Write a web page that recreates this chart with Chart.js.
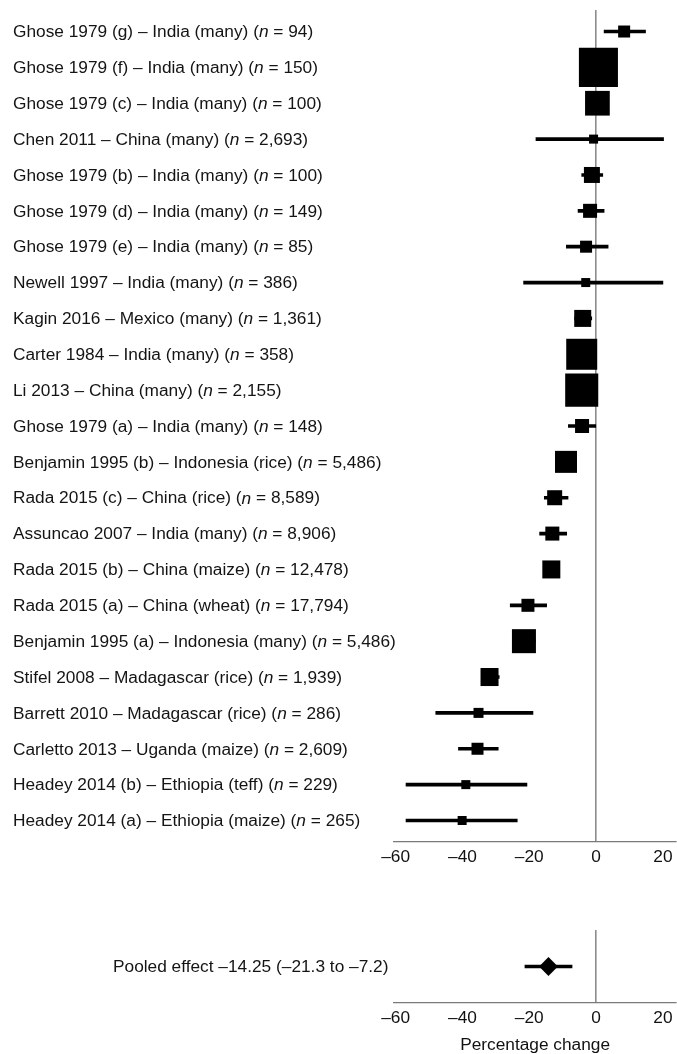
<!DOCTYPE html>
<html>
<head>
<meta charset="utf-8">
<script src="https://cdn.jsdelivr.net/npm/chart.js@4.4.0/dist/chart.umd.min.js"></script>
<style>
  html, body { margin: 0; padding: 0; background: #fff; }
  #wrap { position: relative; width: 677px; height: 1054px; overflow: hidden; }
  #studies { position: absolute; left: 0; top: 0; }
  #pooled { position: absolute; left: 0; top: 900px; }
</style>
</head>
<body>
<div id="wrap">
  <canvas id="studies" width="677" height="880"></canvas>
  <canvas id="pooled" width="677" height="154"></canvas>
</div>
<script>
// Study rows, top to bottom
const studyLabels = [
  'Ghose 1979 (g) \u2013 India (many)',
  'Ghose 1979 (f) \u2013 India (many)',
  'Ghose 1979 (c) \u2013 India (many)',
  'Chen 2011 \u2013 China (many)',
  'Ghose 1979 (b) \u2013 India (many)',
  'Ghose 1979 (d) \u2013 India (many)',
  'Ghose 1979 (e) \u2013 India (many)',
  'Newell 1997 \u2013 India (many)',
  'Kagin 2016 \u2013 Mexico (many)',
  'Carter 1984 \u2013 India (many)',
  'Li 2013 \u2013 China (many)',
  'Ghose 1979 (a) \u2013 India (many)',
  'Benjamin 1995 (b) \u2013 Indonesia (rice)',
  'Rada 2015 (c) \u2013 China (rice)',
  'Assuncao 2007 \u2013 India (many)',
  'Rada 2015 (b) \u2013 China (maize)',
  'Rada 2015 (a) \u2013 China (wheat)',
  'Benjamin 1995 (a) \u2013 Indonesia (many)',
  'Stifel 2008 \u2013 Madagascar (rice)',
  'Barrett 2010 \u2013 Madagascar (rice)',
  'Carletto 2013 \u2013 Uganda (maize)',
  'Headey 2014 (b) \u2013 Ethiopia (teff)',
  'Headey 2014 (a) \u2013 Ethiopia (maize)'
];
const sampleSizes = ['94', '150', '100', '2,693', '100', '149', '85', '386', '1,361', '358', '2,155',
  '148', '5,486', '8,589', '8,906', '12,478', '17,794', '5,486', '1,939', '286', '2,609', '229', '265'];

// Percentage change with 95% confidence limits
const effects = [8.4, 0.7, 0.4, -0.75, -1.25, -1.8, -3.0, -3.1, -4.0, -4.3, -4.3, -4.2,
  -9.0, -12.4, -13.1, -13.4, -20.4, -21.6, -31.9, -35.2, -35.5, -39.0, -40.1];
const ciLow = [2.4, -4.0, -3.0, -18.0, -4.3, -5.4, -8.9, -21.7, -6.4, -8.0, -8.0, -8.3,
  -11.5, -15.5, -16.9, -15.5, -25.7, -25.0, -34.3, -48.0, -41.2, -56.9, -56.9];
const ciHigh = [14.8, 5.4, 3.5, 20.2, 2.0, 2.4, 3.6, 20.0, -1.3, -0.6, -0.8, -0.1,
  -6.5, -8.4, -8.8, -11.3, -14.8, -18.2, -29.0, -18.9, -29.3, -20.7, -23.6];
// Study weights (%)
const studyWeights = [1.74, 18.4, 7.37, 0.98, 3.09, 2.37, 1.74, 0.98, 3.49, 11.6, 13.2, 2.37,
  5.85, 2.72, 2.37, 3.92, 2.04, 6.96, 3.92, 1.21, 1.74, 0.98, 0.98];

// Pooled estimate
const pooledEffect = -14.25;
const pooledLow = -21.3;
const pooledHigh = -7.2;

const tickValues = [-60, -40, -20, 0, 20];
const axisTitle = 'Percentage change';

const FONT = '"Liberation Sans", Arial, Helvetica, sans-serif';
const FONT_SIZE = 17.3;
const dash = v => (v < 0 ? '\u2013' + Math.abs(v) : String(v));

// square area proportional to weight
const markerSide = w => 9.1 * Math.sqrt(w);

// draws the row labels at the left, with an italic "n"
const rowLabels = {
  id: 'rowLabels',
  afterDatasetsDraw(chart, args, opts) {
    const ctx = chart.ctx;
    const ys = chart.scales.y;
    ctx.save();
    ctx.fillStyle = '#141414';
    ctx.textBaseline = 'middle';
    ctx.textAlign = 'left';
    opts.rows.forEach((parts, i) => {
      let x = opts.x;
      const py = ys.getPixelForValue(opts.values ? opts.values[i] : i) + 1;
      parts.forEach(p => {
        ctx.font = (p.italic ? 'italic ' : '') + FONT_SIZE + 'px ' + FONT;
        ctx.fillText(p.text, x, py);
        x += ctx.measureText(p.text).width;
      });
    });
    ctx.restore();
  }
};

function xScale(height, withTitle) {
  return {
    type: 'linear',
    min: -60.5,
    max: 24,
    offset: false,
    afterBuildTicks: s => { s.ticks = tickValues.map(v => ({ value: v })); },
    afterFit: s => { s.height = height; },
    grid: {
      drawTicks: false,
      offset: false,
      color: c => (c.tick && c.tick.value === 0 ? '#8c8c8c' : 'rgba(0,0,0,0)'),
      lineWidth: 1.6
    },
    border: { color: '#7a7a7a', width: 1.2 },
    ticks: {
      padding: 4.5,
      color: '#111',
      font: { family: FONT, size: FONT_SIZE },
      callback: v => dash(v)
    },
    title: {
      display: withTitle,
      text: axisTitle,
      color: '#111',
      font: { family: FONT, size: FONT_SIZE, lineHeight: 1 },
      padding: { top: 0, bottom: 0 }
    }
  };
}

function yScale(min, max) {
  return {
    type: 'linear', min, max, reverse: true, display: false,
    offset: false, grid: { offset: false }
  };
}

const commonPlugins = {
  legend: { display: false },
  tooltip: { enabled: false }
};

new Chart(document.getElementById('studies'), {
  type: 'bar',
  data: {
    datasets: [
      {
        type: 'scatter',
        data: effects.map((v, i) => ({ x: v, y: i })),
        pointStyle: 'rect',
        pointRadius: studyWeights.map(w => markerSide(w) / Math.SQRT2),
        backgroundColor: '#000',
        borderWidth: 0,
        clip: false,
        order: 0
      },
      {
        type: 'bar',
        data: ciLow.map((lo, i) => ({ x: [lo, ciHigh[i]], y: i })),
        backgroundColor: '#000',
        borderWidth: 0,
        borderSkipped: false,
        barThickness: 3,
        order: 1
      }
    ]
  },
  options: {
    indexAxis: 'y',
    responsive: false,
    animation: false,
    events: [],
    layout: { autoPadding: false, padding: { left: 394, right: 0, top: 10, bottom: 8 } },
    scales: {
      x: xScale(30, false),
      y: yScale(-0.6, 22.6)
    },
    plugins: {
      ...commonPlugins,
      rowLabels: {
        x: 13,
        rows: studyLabels.map((s, i) => [
          { text: s + ' (' },
          { text: 'n', italic: true },
          { text: ' = ' + sampleSizes[i] + ')' }
        ])
      }
    }
  },
  plugins: [rowLabels]
});

new Chart(document.getElementById('pooled'), {
  type: 'bar',
  data: {
    datasets: [
      {
        type: 'scatter',
        data: [{ x: pooledEffect, y: 0 }],
        pointStyle: 'rectRot',
        pointRadius: 9.4,
        backgroundColor: '#000',
        borderWidth: 0,
        clip: false,
        order: 0
      },
      {
        type: 'bar',
        data: [{ x: [pooledLow, pooledHigh], y: 0 }],
        backgroundColor: '#000',
        borderWidth: 0,
        borderSkipped: false,
        barThickness: 3,
        order: 1
      }
    ]
  },
  options: {
    indexAxis: 'y',
    responsive: false,
    animation: false,
    events: [],
    layout: { autoPadding: false, padding: { left: 394, right: 0, top: 30, bottom: 0 } },
    scales: {
      x: xScale(51, true),
      y: yScale(-1, 1)
    },
    plugins: {
      ...commonPlugins,
      rowLabels: {
        x: 113,
        values: [0],
        rows: [[{ text: 'Pooled effect ' + dash(pooledEffect) + ' (' + dash(pooledLow) + ' to ' + dash(pooledHigh) + ')' }]]
      }
    }
  },
  plugins: [rowLabels]
});
</script>
</body>
</html>
